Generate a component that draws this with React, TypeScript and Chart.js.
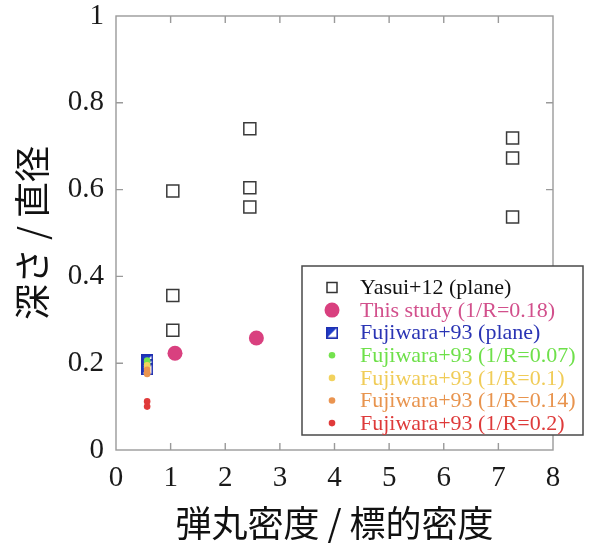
import React, { useEffect, useRef } from 'react';
import { Chart, registerables } from 'chart.js';

Chart.register(...registerables);

// ---- data ----
const yasuiX = [1.04, 1.04, 1.04, 2.45, 2.45, 2.45, 7.26, 7.26, 7.26];
const yasuiY = [0.597, 0.356, 0.276, 0.740, 0.604, 0.560, 0.719, 0.673, 0.537];
const studyX = [1.08, 2.57];
const studyY = [0.223, 0.258];
const planeX = [0.57, 0.57, 0.57];
const planeY = [0.207, 0.196, 0.186];
const g007X = [0.57, 0.57];
const g007Y = [0.206, 0.200];
const g010X = [0.57, 0.57];
const g010Y = [0.195, 0.190];
const g014X = [0.57, 0.57, 0.57];
const g014Y = [0.185, 0.179, 0.175];
const g020X = [0.57, 0.57];
const g020Y = [0.112, 0.100];

const xTicks = [0, 1, 2, 3, 4, 5, 6, 7, 8];
const yTicks = [0, 0.2, 0.4, 0.6, 0.8, 1];

const legendLabels = [
  'Yasui+12 (plane)',
  'This study (1/R=0.18)',
  'Fujiwara+93 (plane)',
  'Fujiwara+93 (1/R=0.07)',
  'Fujiwara+93 (1/R=0.1)',
  'Fujiwara+93 (1/R=0.14)',
  'Fujiwara+93 (1/R=0.2)',
];
const textColors = ['#111111', '#d2508c', '#2a34b4', '#6ee04a', '#f0cc58', '#e8944e', '#de3a3a'];

const pts = (xs: number[], ys: number[]) => xs.map((x, i) => ({ x, y: ys[i] }));

function makePlaneMarker(): HTMLCanvasElement {
  const c = document.createElement('canvas');
  c.width = 12;
  c.height = 12;
  const ctx = c.getContext('2d')!;
  ctx.fillStyle = '#ffffff';
  ctx.fillRect(0, 0, 12, 12);
  ctx.fillStyle = '#1f3cc8';
  ctx.beginPath();
  ctx.moveTo(0, 0);
  ctx.lineTo(12, 0);
  ctx.lineTo(0, 12);
  ctx.closePath();
  ctx.fill();
  ctx.strokeStyle = '#1f2fb0';
  ctx.lineWidth = 1.6;
  ctx.strokeRect(0.8, 0.8, 10.4, 10.4);
  return c;
}

export default function App() {
  const ref = useRef<HTMLCanvasElement>(null);

  useEffect(() => {
    const canvas = ref.current!;
    const plane = makePlaneMarker();

    const frame = {
      id: 'frame',
      afterDatasetsDraw(chart: any) {
        const { ctx, chartArea: a, scales } = chart;
        ctx.save();
        ctx.strokeStyle = '#9a9a9a';
        ctx.lineWidth = 1.4;
        ctx.strokeRect(a.left, a.top, a.right - a.left, a.bottom - a.top);
        const tl = 7;
        ctx.beginPath();
        xTicks.forEach((v) => {
          const px = scales.x.getPixelForValue(v);
          if (v === 0 || v === 8) return;
          ctx.moveTo(px, a.bottom);
          ctx.lineTo(px, a.bottom - tl);
          ctx.moveTo(px, a.top);
          ctx.lineTo(px, a.top + tl);
        });
        yTicks.forEach((v) => {
          const py = scales.y.getPixelForValue(v);
          if (v === 0 || v === 1) return;
          ctx.moveTo(a.left, py);
          ctx.lineTo(a.left + tl, py);
          ctx.moveTo(a.right, py);
          ctx.lineTo(a.right - tl, py);
        });
        ctx.stroke();
        ctx.restore();
      },
    };

    const legend = {
      id: 'customLegend',
      afterDraw(chart: any) {
        const { ctx } = chart;
        const bx = 302, by = 266, bw = 281, bh = 169;
        ctx.save();
        ctx.fillStyle = '#ffffff';
        ctx.fillRect(bx, by, bw, bh);
        ctx.strokeStyle = '#4a4a4a';
        ctx.lineWidth = 1.5;
        ctx.strokeRect(bx, by, bw, bh);
        const mx = 332;
        const tx = 360;
        const y0 = 287.5;
        const step = 22.6;
        ctx.font = '22px "Liberation Serif"';
        ctx.textBaseline = 'middle';
        ctx.textAlign = 'left';
        chart.data.datasets.forEach((ds: any, i: number) => {
          const y = y0 + i * step;
          if (i === 0) {
            ctx.strokeStyle = '#333333';
            ctx.lineWidth = 1.5;
            ctx.strokeRect(mx - 5, y - 5, 10, 10);
          } else if (i === 2) {
            ctx.drawImage(plane, mx - 6, y - 6);
          } else {
            const r = i === 1 ? 7.5 : 3.3;
            ctx.fillStyle = ds.backgroundColor;
            ctx.beginPath();
            ctx.arc(mx, y, r, 0, Math.PI * 2);
            ctx.fill();
          }
          ctx.fillStyle = textColors[i];
          ctx.fillText(legendLabels[i], tx, y + 1);
        });
        ctx.restore();
      },
    };

    const tickFont = { family: '"Liberation Serif", "Times New Roman", serif', size: 29 };
    const titleFont = { family: '"Noto Sans CJK JP", sans-serif', size: 36 };

    const chart = new Chart(canvas, {
      type: 'scatter',
      data: {
        datasets: [
          {
            label: legendLabels[0],
            data: pts(yasuiX, yasuiY),
            pointStyle: 'rect',
            pointRadius: 8.5,
            borderColor: '#3a3a3a',
            borderWidth: 1.5,
            backgroundColor: 'rgba(255,255,255,0)',
            order: 5,
          },
          {
            label: legendLabels[1],
            data: pts(studyX, studyY),
            pointStyle: 'circle',
            pointRadius: 7.5,
            borderWidth: 0,
            backgroundColor: '#d9407f',
            order: 4,
          },
          {
            label: legendLabels[2],
            data: pts(planeX, planeY),
            pointStyle: plane,
            pointRadius: 6,
            backgroundColor: '#1f3cc8',
            order: 10,
          },
          {
            label: legendLabels[3],
            data: pts(g007X, g007Y),
            pointStyle: 'circle',
            pointRadius: 3.3,
            borderWidth: 0,
            backgroundColor: '#74e24e',
            order: 3,
          },
          {
            label: legendLabels[4],
            data: pts(g010X, g010Y),
            pointStyle: 'circle',
            pointRadius: 3.3,
            borderWidth: 0,
            backgroundColor: '#f2d25e',
            order: 2,
          },
          {
            label: legendLabels[5],
            data: pts(g014X, g014Y),
            pointStyle: 'circle',
            pointRadius: 3.3,
            borderWidth: 0,
            backgroundColor: '#ea9450',
            order: 1,
          },
          {
            label: legendLabels[6],
            data: pts(g020X, g020Y),
            pointStyle: 'circle',
            pointRadius: 3.3,
            borderWidth: 0,
            backgroundColor: '#e03a3a',
            order: 0,
          },
        ],
      },
      options: {
        responsive: false,
        animation: false,
        devicePixelRatio: 1,
        layout: { padding: { left: 0, right: 37, top: 16, bottom: 0 } },
        plugins: {
          legend: { display: false },
          tooltip: { enabled: false },
        },
        scales: {
          x: {
            type: 'linear',
            min: 0,
            max: 8,
            afterBuildTicks: (s: any) => {
              s.ticks = xTicks.map((v) => ({ value: v }));
            },
            ticks: {
              font: tickFont,
              color: '#1a1a1a',
              padding: 11,
              maxRotation: 0,
              callback: (v: any) => String(v),
            },
            grid: { display: false, drawTicks: false },
            border: { display: false },
            title: {
              display: true,
              text: '弾丸密度 / 標的密度',
              font: titleFont,
              color: '#111111',
              padding: { top: 0, bottom: 2 },
            },
            afterFit: (s: any) => {
              s.height = 97;
              s.paddingLeft = 0;
              s.paddingRight = 0;
            },
          },
          y: {
            type: 'linear',
            min: 0,
            max: 1,
            afterBuildTicks: (s: any) => {
              s.ticks = yTicks.map((v) => ({ value: v }));
            },
            ticks: {
              font: tickFont,
              color: '#1a1a1a',
              padding: 12,
              callback: (v: any) => String(Math.round(Number(v) * 10) / 10),
            },
            grid: { display: false, drawTicks: false },
            border: { display: false },
            title: {
              display: true,
              text: '深さ / 直径',
              font: titleFont,
              color: '#111111',
              padding: { top: 11, bottom: 0 },
            },
            afterFit: (s: any) => {
              s.width = 116;
              s.paddingTop = 0;
              s.paddingBottom = 0;
            },
          },
        },
      },
      plugins: [frame, legend],
    } as any);

    return () => chart.destroy();
  }, []);

  return (
    <div style={{ position: 'fixed', left: 0, top: 0, width: 590, height: 547, background: '#ffffff' }}>
      <canvas ref={ref} width={590} height={547} style={{ display: 'block', width: 590, height: 547 }} />
    </div>
  );
}
